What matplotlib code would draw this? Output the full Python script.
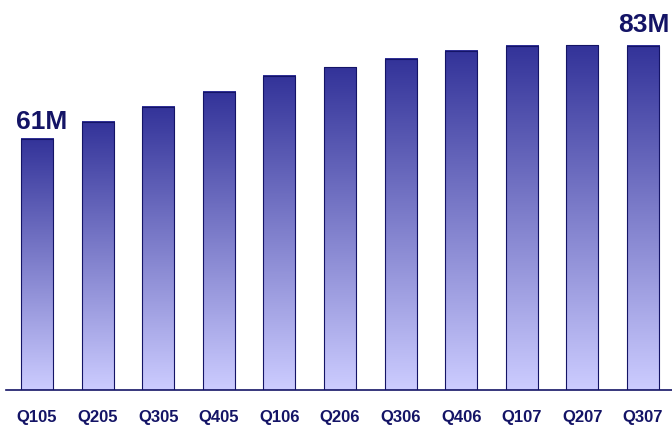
import numpy as np
import matplotlib.pyplot as plt
from matplotlib.colors import LinearSegmentedColormap

quarters = ['Q105', 'Q205', 'Q305', 'Q405', 'Q106', 'Q206',
            'Q306', 'Q406', 'Q107', 'Q207', 'Q307']
subs = [60.6, 64.7, 68.3, 71.9, 75.8, 77.9, 79.9, 81.8, 83.0, 83.2, 83.0]
callouts = {0: '61M', 10: '83M'}
callout_offsets = {0: (3, 4), 10: (1, 7)}

navy = '#141466'
cmap = LinearSegmentedColormap.from_list('bar', ['#ccccff', '#333399'])

fig = plt.figure(figsize=(6.72, 4.31), dpi=100)
ax = fig.add_axes([6 / 672, 40 / 431, 666 / 672, 391 / 431])

x = np.arange(len(quarters))
w = 0.53
bars = ax.bar(x, subs, width=w, color='none', edgecolor=navy, linewidth=0.8, zorder=3)

grad = np.linspace(0, 1, 256).reshape(-1, 1)
for b in bars:
    bx, by = b.get_x(), b.get_y()
    bw, bh = b.get_width(), b.get_height()
    ax.imshow(grad, cmap=cmap, origin='lower', aspect='auto',
              extent=[bx, bx + bw, by, by + bh], zorder=2)

for i, lab in callouts.items():
    ax.annotate(lab, (x[i], subs[i]), xytext=callout_offsets[i], textcoords='offset points',
                ha='center', va='bottom', fontsize=19, fontweight='bold',
                color=navy, family='Liberation Sans', annotation_clip=False)

ax.set_xlim(-0.512, 10.48)
ax.set_ylim(0, 94.3)
ax.set_xticks(x)
ax.set_xticklabels(quarters, fontsize=12, fontweight='bold', color=navy,
                   family=['Liberation Sans Narrow', 'Liberation Sans'])
ax.tick_params(axis='x', length=0, pad=14)
ax.set_yticks([])
for s in ['top', 'right', 'left']:
    ax.spines[s].set_visible(False)
ax.spines['bottom'].set_color(navy)
ax.spines['bottom'].set_linewidth(1.2)

fig.savefig('out.png', dpi=100)
